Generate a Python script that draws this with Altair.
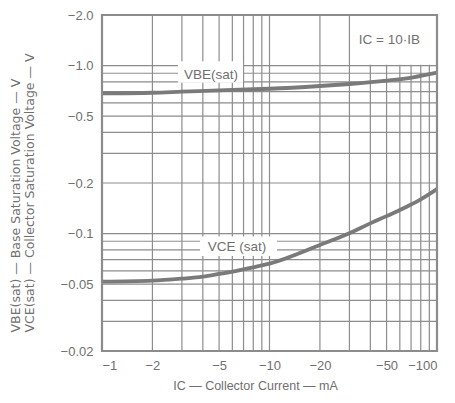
import altair as alt
import pandas as pd

# ---- data ----
ic_vbe = [1, 2, 3, 6, 10, 20, 30, 50, 72, 100]
vbe_sat = [0.684, 0.689, 0.699, 0.716, 0.728, 0.756, 0.777, 0.813, 0.851, 0.907]

ic_vce = [1, 2, 3, 4, 5, 6, 7, 8, 10, 20, 30, 40, 50, 60, 70, 80, 100]
vce_sat = [0.0517, 0.0524, 0.0539, 0.0554, 0.0575, 0.0594, 0.0613, 0.063, 0.0662,
           0.0855, 0.1004, 0.115, 0.127, 0.138, 0.149, 0.160, 0.184]

x_grid = [1, 2, 3, 4, 5, 6, 7, 8, 9, 10, 20, 30, 40, 50, 60, 70, 80, 90, 100]
y_grid = [1.0, 0.9, 0.8, 0.7, 0.6, 0.5, 0.4, 0.3, 0.2,
          0.1, 0.09, 0.08, 0.07, 0.06, 0.05, 0.04, 0.03]
x_ticks = [1, 2, 5, 10, 20, 50, 100]
y_ticks = [2.0, 1.0, 0.5, 0.2, 0.1, 0.05, 0.02]

label_text = ["VBE(sat)", "VCE (sat)", "IC = 10·IB"]
label_x = [4.47, 6.4, 52]
label_y = [0.879, 0.0835, 1.42]

box_x1 = [2.84, 3.85, 31]
box_x2 = [6.95, 11.1, 99]
box_y1 = [0.79, 0.0735, 1.01]
box_y2 = [1.06, 0.096, 1.97]

x_domain = [1, 100]
y_domain = [0.02, 2.0]

INK = "#8c8c8c"
TXT = "#707070"
FONT = "Liberation Sans"

curves = pd.DataFrame({
    "ic": ic_vbe + ic_vce,
    "v": vbe_sat + vce_sat,
    "series": ["VBE"] * len(ic_vbe) + ["VCE"] * len(ic_vce),
})
gx = pd.DataFrame({"x": x_grid})
gy = pd.DataFrame({"y": y_grid})
labels = pd.DataFrame({"t": label_text, "x": label_x, "y": label_y})
boxes = pd.DataFrame({"x1": box_x1, "x2": box_x2, "y1": box_y1, "y2": box_y2})
frame = pd.DataFrame({"x1": [x_domain[0]], "x2": [x_domain[1]],
                      "y1": [y_domain[0]], "y2": [y_domain[1]]})

xs = alt.Scale(type="log", domain=x_domain, nice=False)
ys = alt.Scale(type="log", domain=y_domain, nice=False)

x_axis = alt.Axis(
    values=x_ticks, grid=False, ticks=False, domain=False,
    labelExpr="'−' + format(datum.value, 'd')",
    labelFont=FONT, labelFontSize=13, labelColor=TXT, labelPadding=8,
    title="IC — Collector Current — mA", titleFont=FONT, titleFontSize=12.5,
    titleFontWeight="normal", titleColor=TXT, titleX=153, titleY=34,
    titleAlign="center", titleBaseline="middle",
)
y_axis = alt.Axis(
    values=y_ticks, grid=False, ticks=False, domain=False,
    labelExpr="'−' + (datum.value >= 0.1 ? format(datum.value, '.1f') : format(datum.value, '.2f'))",
    labelFont=FONT, labelFontSize=13, labelColor=TXT, labelPadding=9,
    title=["VBE(sat) — Base Saturation Voltage — V",
           "VCE(sat) — Collector Saturation Voltage — V"],
    titleFont="DejaVu Sans", titleFontSize=12.5, titleFontWeight="normal", titleColor=TXT,
    titleAngle=270, titleAlign="left", titleBaseline="top", titleLineHeight=14,
    titleX=-93, titleY=317,
)

vlines = alt.Chart(gx).mark_rule(color=INK, strokeWidth=1.2).encode(
    x=alt.X("x:Q", scale=xs, axis=x_axis)
)
hlines = alt.Chart(gy).mark_rule(color=INK, strokeWidth=1.2).encode(
    y=alt.Y("y:Q", scale=ys, axis=y_axis)
)
white = alt.Chart(boxes).mark_rect(fill="white").encode(
    x=alt.X("x1:Q", scale=xs), x2="x2:Q",
    y=alt.Y("y1:Q", scale=ys), y2="y2:Q",
)
lines = alt.Chart(curves).mark_line(color="#7a7a7a", strokeWidth=3.8, interpolate="monotone").encode(
    x=alt.X("ic:Q", scale=xs), y=alt.Y("v:Q", scale=ys), detail="series:N"
)
texts = alt.Chart(labels).mark_text(font=FONT, fontSize=13.5, color=TXT).encode(
    x=alt.X("x:Q", scale=xs), y=alt.Y("y:Q", scale=ys), text="t:N"
)
border = alt.Chart(frame).mark_rect(fillOpacity=0, stroke=INK, strokeWidth=2.2).encode(
    x=alt.X("x1:Q", scale=xs), x2="x2:Q",
    y=alt.Y("y1:Q", scale=ys), y2="y2:Q",
)

chart = alt.layer(vlines, hlines, white, lines, texts, border).properties(
    width=335, height=336,
    autosize=alt.AutoSizeParams(type="none"),
    padding={"left": 94, "top": 7, "right": 10, "bottom": 44},
).configure_view(stroke=None).configure(background="white")

chart.save("out.html", embed_options={"renderer": "svg", "actions": False})
